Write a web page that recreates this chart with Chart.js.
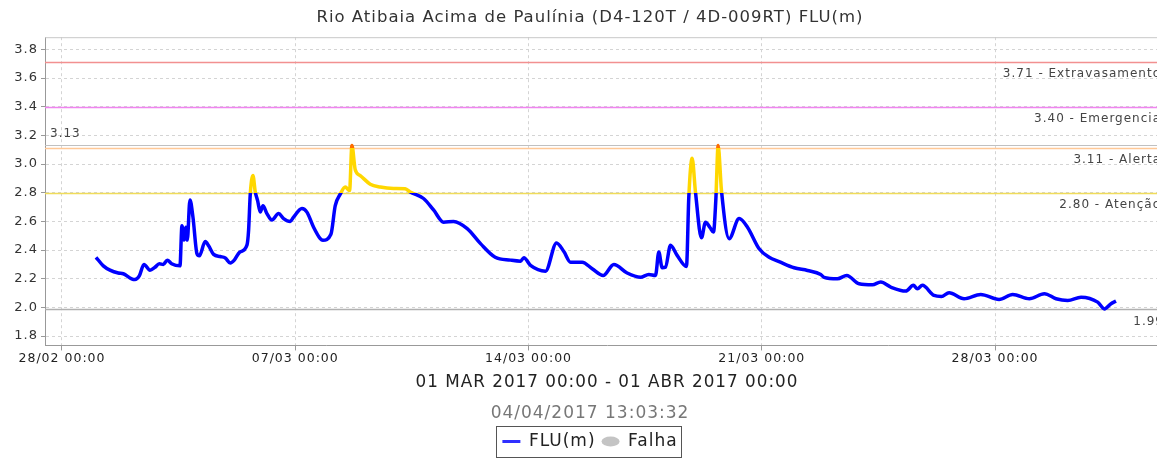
<!DOCTYPE html>
<html>
<head>
<meta charset="utf-8">
<script src="https://cdn.jsdelivr.net/npm/chart.js@4.4.1/dist/chart.umd.min.js"></script>
<style>
  html, body { margin: 0; padding: 0; background: #fff; overflow: hidden; }
  #grafico { display: block; }
</style>
</head>
<body>
<canvas id="grafico" width="1180" height="458"></canvas>
<script>
// dias desde 28/02 00:00
const dias = [1.02, 1.24, 1.44, 1.69, 1.84, 2.09, 2.19, 2.32, 2.46, 2.64, 2.79, 2.92, 3.04, 3.16, 3.29, 3.54,
  3.60, 3.66, 3.72, 3.76, 3.84, 3.93, 4.05, 4.12, 4.30, 4.40, 4.55, 4.75, 4.90, 5.05, 5.17, 5.33, 5.55,
  5.60, 5.65, 5.73, 5.80, 5.87, 5.95, 6.03, 6.15, 6.30, 6.50, 6.65, 6.85, 6.95, 7.20, 7.35, 7.55, 7.75,
  7.83, 8.07, 8.20, 8.35, 8.50, 8.63, 8.70, 8.80, 8.95, 9.25, 9.55, 9.95, 10.30, 10.45, 10.85, 11.15,
  11.45, 11.75, 12.16, 12.56, 13.00, 13.46, 13.76, 13.86, 14.06, 14.51, 14.84, 15.06, 15.26, 15.61,
  15.91, 16.24, 16.56, 16.96, 17.36, 17.61, 17.81, 17.91, 18.01, 18.11, 18.26, 18.46, 18.74, 18.81,
  18.91, 19.01, 19.19, 19.31, 19.45, 19.55, 19.62, 19.69, 19.79, 20.02, 20.32, 20.57, 20.92, 21.22,
  21.52, 21.97, 22.37, 22.77, 22.87, 23.27, 23.55, 23.92, 24.32, 24.57, 24.87, 25.32, 25.55, 25.67,
  25.82, 26.17, 26.39, 26.62, 27.07, 27.57, 28.12, 28.53, 29.03, 29.48, 29.83, 30.18, 30.58, 31.08,
  31.28, 31.48, 31.63];
const nivel = [2.35, 2.29, 2.26, 2.24, 2.235, 2.20, 2.195, 2.22, 2.30, 2.26, 2.28, 2.305, 2.30, 2.33, 2.305, 2.29,
  2.57, 2.47, 2.56, 2.47, 2.75, 2.63, 2.375, 2.36, 2.46, 2.43, 2.37, 2.355, 2.345, 2.31, 2.33, 2.385, 2.435,
  2.54, 2.79, 2.92, 2.805, 2.745, 2.665, 2.71, 2.655, 2.61, 2.655, 2.62, 2.60, 2.63, 2.69, 2.665, 2.56, 2.48,
  2.468, 2.51, 2.71, 2.79, 2.84, 2.815, 3.13, 2.96, 2.92, 2.86, 2.84, 2.83, 2.828, 2.805, 2.76, 2.68,
  2.595, 2.60, 2.55, 2.445, 2.35, 2.33, 2.323, 2.347, 2.293, 2.253, 2.45, 2.39, 2.316, 2.316,
  2.27, 2.223, 2.30, 2.24, 2.21, 2.23, 2.223, 2.386, 2.277, 2.281, 2.433, 2.363, 2.286, 2.77,
  3.04, 2.805, 2.486, 2.595, 2.556, 2.526, 2.747, 3.13, 2.816, 2.48, 2.62, 2.56, 2.41, 2.35,
  2.32, 2.277, 2.258, 2.23, 2.21, 2.20, 2.223, 2.165, 2.158, 2.177, 2.142, 2.114, 2.154, 2.13,
  2.154, 2.084, 2.077, 2.103, 2.061, 2.091, 2.056, 2.091, 2.061, 2.096, 2.061, 2.049, 2.072, 2.037,
  1.99, 2.026, 2.044];

const xTickDias = [0, 7, 14, 21, 28];
const xTickLabels = ['28/02 00:00', '07/03 00:00', '14/03 00:00', '21/03 00:00', '28/03 00:00'];
const yTicks = [1.8, 2.0, 2.2, 2.4, 2.6, 2.8, 3.0, 3.2, 3.4, 3.6, 3.8];

const cotas = [3.71, 3.40, 3.11, 2.80];
const cotaNomes = ['Extravasamento', 'Emergencia', 'Alerta', 'Atenção'];
const cotaCores = ['#f29090', '#f084f0', '#ffc896', '#f0dc5a'];
const nivelMax = 3.13;
const nivelMin = 1.99;

const fonte = "'DejaVu Sans', sans-serif";
const azul = 'rgb(0,0,255)';
const amarelo = 'rgb(255,215,0)';
const laranja = 'rgb(255,110,0)';

const espacamento = {
  id: 'espacamento',
  beforeUpdate(chart) { chart.ctx.letterSpacing = '1px'; },
  beforeDraw(chart) { chart.ctx.letterSpacing = '1px'; }
};

const cotasPlugin = {
  id: 'cotas',
  beforeDatasetsDraw(chart) {
    const { ctx, chartArea: a, scales: { y } } = chart;
    ctx.save();
    // moldura
    ctx.strokeStyle = '#c8c8c8';
    ctx.lineWidth = 1;
    ctx.beginPath();
    ctx.moveTo(a.left, a.top + 0.5);
    ctx.lineTo(a.right, a.top + 0.5);
    ctx.stroke();

    const linha = (v, cor, w) => {
      const py = Math.round(y.getPixelForValue(v)) + 0.5;
      ctx.strokeStyle = cor;
      ctx.lineWidth = w;
      ctx.beginPath();
      ctx.moveTo(a.left, py);
      ctx.lineTo(a.right, py);
      ctx.stroke();
    };
    linha(nivelMax, '#c0c0c0', 1.2);
    linha(nivelMin, '#b0b0b0', 1.4);
    cotas.forEach((v, i) => linha(v, cotaCores[i], i === 3 ? 1.3 : 1.6));
    ctx.restore();
  },
  afterDraw(chart) {
    const { ctx, chartArea: a, scales: { y } } = chart;
    ctx.save();
    ctx.letterSpacing = '1px';
    ctx.font = '12px ' + fonte;
    ctx.fillStyle = '#444';
    ctx.textBaseline = 'middle';
    ctx.textAlign = 'right';
    cotas.forEach((v, i) => {
      ctx.fillText(v.toFixed(2) + ' - ' + cotaNomes[i], a.right - 8, y.getPixelForValue(v) + 12);
    });
    ctx.fillText(nivelMin.toFixed(2), a.right - 5, y.getPixelForValue(nivelMin) + 13);
    ctx.textAlign = 'left';
    ctx.fillText(nivelMax.toFixed(2), a.left + 5, y.getPixelForValue(nivelMax) - 12);
    ctx.restore();
  }
};

const bordaLegenda = {
  id: 'bordaLegenda',
  afterDraw(chart) {
    const boxes = chart.legend.legendHitBoxes;
    if (!boxes || !boxes.length) return;
    const l = Math.min(...boxes.map(b => b.left));
    const r = Math.max(...boxes.map(b => b.left + b.width));
    const t = Math.min(...boxes.map(b => b.top));
    const h = Math.max(...boxes.map(b => b.height));
    const ctx = chart.ctx;
    ctx.save();
    ctx.strokeStyle = '#555';
    ctx.lineWidth = 1;
    ctx.strokeRect(Math.round(l - 6) + 0.5, Math.round(t - 7) + 0.5, Math.round(r - l + 10), Math.round(h + 14));
    ctx.restore();
  }
};

function corLinha(context) {
  const { ctx, chartArea, scales } = context.chart;
  if (!chartArea) return azul;
  const y = scales.y;
  const alto = chartArea.bottom - chartArea.top;
  const f = v => Math.min(1, Math.max(0, (chartArea.bottom - y.getPixelForValue(v)) / alto));
  const g = ctx.createLinearGradient(0, chartArea.bottom, 0, chartArea.top);
  g.addColorStop(0, azul);
  g.addColorStop(f(cotas[3]), azul);
  g.addColorStop(f(cotas[3]), amarelo);
  g.addColorStop(f(cotas[2]), amarelo);
  g.addColorStop(f(cotas[2]), laranja);
  g.addColorStop(1, laranja);
  return g;
}

const ctx = document.getElementById('grafico').getContext('2d');
new Chart(ctx, {
  type: 'line',
  data: {
    datasets: [{
      label: 'FLU(m)',
      data: dias.map((d, i) => ({ x: d, y: nivel[i] })),
      borderColor: corLinha,
      borderWidth: 3.5,
      pointRadius: 0,
      cubicInterpolationMode: 'monotone',
      fill: false
    }]
  },
  options: {
    responsive: false,
    animation: false,
    layout: { padding: { left: 0, right: 0, top: 0, bottom: -2 } },
    plugins: {
      title: {
        display: true,
        text: 'Rio Atibaia Acima de Paulínia (D4-120T / 4D-009RT) FLU(m)',
        color: '#333',
        font: { family: fonte, size: 16.5, weight: 'normal' },
        padding: { top: 8, bottom: 9.4 }
      },
      subtitle: {
        display: true,
        position: 'bottom',
        weight: 500,
        text: '04/04/2017 13:03:32',
        color: '#777',
        font: { family: fonte, size: 17, weight: 'normal' },
        padding: { top: 6, bottom: 3 }
      },
      legend: {
        position: 'bottom',
        labels: {
          usePointStyle: true,
          pointStyleWidth: 18,
          boxHeight: 7,
          padding: 6,
          color: '#222',
          font: { family: fonte, size: 17 },
          generateLabels: () => [
            { text: 'FLU(m)', pointStyle: 'line', strokeStyle: '#3030ff', fillStyle: '#3030ff', lineWidth: 3, fontColor: '#222' },
            { text: 'Falha', pointStyle: 'circle', strokeStyle: '#c4c4c4', fillStyle: '#c4c4c4', lineWidth: 0, fontColor: '#222' }
          ]
        }
      },
      tooltip: { enabled: false }
    },
    scales: {
      x: {
        type: 'linear',
        min: -0.51,
        max: 33.22,
        afterBuildTicks: s => { s.ticks = xTickDias.map(v => ({ value: v })); },
        ticks: {
          autoSkip: false,
          maxRotation: 0,
          padding: 1,
          color: '#222',
          font: { family: fonte, size: 12.5 },
          callback: (v, i) => xTickLabels[i]
        },
        grid: { color: '#d4d4d4', tickLength: 5, tickColor: '#999' },
        border: { color: '#999', dash: [3, 3] },
        title: {
          display: true,
          text: '01 MAR 2017 00:00 - 01 ABR 2017 00:00',
          color: '#222',
          font: { family: fonte, size: 16.8 },
          padding: { top: 5, bottom: 5 }
        }
      },
      y: {
        min: 1.735,
        max: 3.885,
        afterBuildTicks: s => { s.ticks = yTicks.map(v => ({ value: v })); },
        afterFit: s => { s.width = 45; },
        ticks: {
          padding: 3,
          color: '#333',
          font: { family: fonte, size: 13 },
          callback: v => v.toFixed(1)
        },
        grid: { color: '#d4d4d4', tickLength: 4, tickColor: '#999' },
        border: { color: '#999', dash: [3, 3] }
      },
      margem: {
        position: 'right',
        afterFit: s => { s.width = 11; },
        ticks: { display: false },
        grid: { display: false },
        border: { display: false }
      }
    }
  },
  plugins: [espacamento, cotasPlugin, bordaLegenda]
});
</script>
</body>
</html>
